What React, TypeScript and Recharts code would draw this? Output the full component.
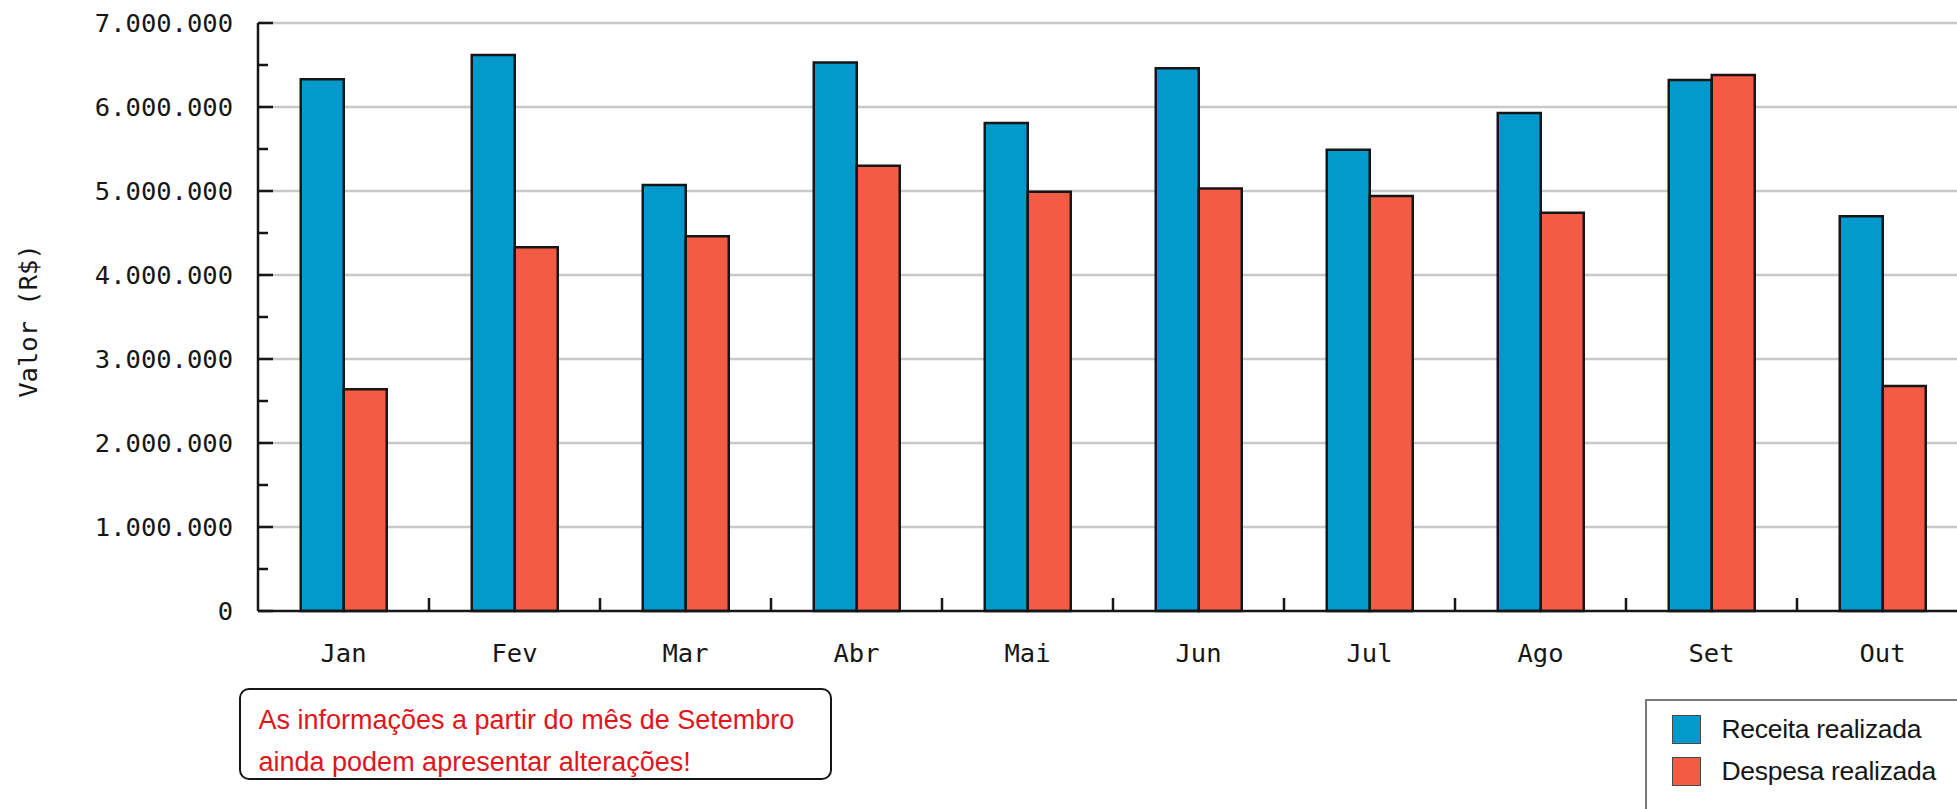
import { Bar, BarChart, CartesianGrid, Legend, XAxis, YAxis } from "recharts";

const months = ["Jan", "Fev", "Mar", "Abr", "Mai", "Jun", "Jul", "Ago", "Set", "Out"];
const receita = [6330000, 6620000, 5070000, 6530000, 5810000, 6460000, 5490000, 5930000, 6320000, 4700000];
const despesa = [2640000, 4330000, 4460000, 5300000, 4990000, 5030000, 4940000, 4740000, 6380000, 2680000];
const seriesNames = ["Receita realizada", "Despesa realizada"];
const yTicks = [
  0, 500000, 1000000, 1500000, 2000000, 2500000, 3000000, 3500000, 4000000, 4500000, 5000000, 5500000,
  6000000, 6500000, 7000000,
];
const gridTicks = [1000000, 2000000, 3000000, 4000000, 5000000, 6000000, 7000000];
const noteLines = ["As informações a partir do mês de Setembro", "ainda podem apresentar alterações!"];

const data = months.map((month, i) => ({ month, receita: receita[i], despesa: despesa[i] }));

const BLUE = "#0399CD";
const RED = "#F45B45";
const INK = "#161616";
const monoFont = "'DejaVu Sans Mono', monospace";
const sansFont = "'Liberation Sans', Arial, sans-serif";

const formatValor = (v: number) => String(v).replace(/\B(?=(\d{3})+(?!\d))/g, ".");

function YTick({ x, y, payload }: any) {
  const major = payload.value % 1000000 === 0;
  return (
    <g>
      <line x1={x} x2={x + (major ? 15 : 10)} y1={y} y2={y} stroke={INK} strokeWidth={2.5} />
      {major && (
        <text x={x - 25} y={y} dy="0.36em" textAnchor="end" fontFamily={monoFont} fontSize={25.5} fill={INK}>
          {formatValor(payload.value)}
        </text>
      )}
    </g>
  );
}

function XTick({ x, y, payload }: any) {
  const half = payload.offset || 85.5;
  return (
    <g>
      <line x1={x + half} x2={x + half} y1={y} y2={y - 13} stroke={INK} strokeWidth={2.5} />
      <text x={x} y={y + 42} dy="0.36em" textAnchor="middle" fontFamily={monoFont} fontSize={25.5} fill={INK}>
        {payload.value}
      </text>
    </g>
  );
}

function YLabel({ viewBox }: any) {
  const cx = 28;
  const cy = viewBox.y + viewBox.height / 2 + 4;
  return (
    <text
      x={cx}
      y={cy}
      dy="0.36em"
      textAnchor="middle"
      transform={`rotate(-90, ${cx}, ${cy})`}
      fontFamily={monoFont}
      fontSize={25.5}
      fill={INK}
    >
      Valor (R$)
    </text>
  );
}

function LegendBox({ payload }: any) {
  // keep the series order (recharts sorts legend items by name)
  const items = [...(payload || [])].sort(
    (a: any, b: any) => seriesNames.indexOf(a.value) - seriesNames.indexOf(b.value)
  );
  return (
    <div
      style={{
        width: 400,
        height: 200,
        boxSizing: "border-box",
        border: "2.5px solid #7a7a7a",
        background: "#fff",
        padding: "7px 0 0 24.5px",
      }}
    >
      {items.map((entry: any) => (
        <div key={entry.value} style={{ display: "flex", alignItems: "center", height: 42 }}>
          <span
            style={{
              width: 29,
              height: 29,
              boxSizing: "border-box",
              background: entry.color,
              border: "1.5px solid #4a4a4a",
            }}
          />
          <span
            style={{
              marginLeft: 21,
              fontFamily: sansFont,
              fontSize: 26.5,
              letterSpacing: -0.3,
              color: INK,
              whiteSpace: "nowrap",
            }}
          >
            {entry.value}
          </span>
        </div>
      ))}
    </div>
  );
}

export default function App() {
  return (
    <div
      style={{
        position: "absolute",
        left: 0,
        top: 0,
        width: 1957,
        height: 809,
        overflow: "hidden",
        background: "#fff",
      }}
    >
      <BarChart
        width={1968}
        height={809}
        data={data}
        margin={{ top: 23, right: 0, bottom: 0, left: 0 }}
        barCategoryGap="25%"
        barGap={0}
      >
        <CartesianGrid
          vertical={false}
          stroke="#c9c9c9"
          strokeWidth={2.5}
          horizontalCoordinatesGenerator={({ yAxis, offset }: any) =>
            gridTicks.map((v) =>
              yAxis && typeof yAxis.scale === "function"
                ? yAxis.scale(v)
                : offset.top + offset.height * (1 - v / 7000000)
            )
          }
        />
        <XAxis
          dataKey="month"
          height={198}
          interval={0}
          tickSize={0}
          tickMargin={0}
          tickLine={false}
          tick={<XTick />}
          axisLine={{ stroke: INK, strokeWidth: 2.5 }}
        />
        <YAxis
          type="number"
          width={258}
          domain={[0, 7000000]}
          ticks={yTicks}
          interval={0}
          tickSize={0}
          tickMargin={0}
          tickLine={false}
          tick={<YTick />}
          axisLine={{ stroke: INK, strokeWidth: 2.5 }}
          label={<YLabel />}
        />
        <Legend
          layout="horizontal"
          verticalAlign="middle"
          align="center"
          content={<LegendBox />}
          wrapperStyle={{ left: 1645, top: 699, width: 400, height: 200 }}
        />
        <Bar
          dataKey="receita"
          name={seriesNames[0]}
          fill={BLUE}
          stroke={INK}
          strokeWidth={2.5}
          isAnimationActive={false}
        />
        <Bar
          dataKey="despesa"
          name={seriesNames[1]}
          fill={RED}
          stroke={INK}
          strokeWidth={2.5}
          isAnimationActive={false}
        />
      </BarChart>
      <div
        style={{
          position: "absolute",
          left: 239,
          top: 688,
          width: 593,
          height: 92,
          boxSizing: "border-box",
          border: `2.5px solid ${INK}`,
          borderRadius: 10,
          padding: "8.5px 0 0 17.5px",
          fontFamily: sansFont,
          fontSize: 27,
          lineHeight: "42px",
          color: "#E0161B",
          whiteSpace: "nowrap",
        }}
      >
        {noteLines.map((line) => (
          <div key={line}>{line}</div>
        ))}
      </div>
    </div>
  );
}
